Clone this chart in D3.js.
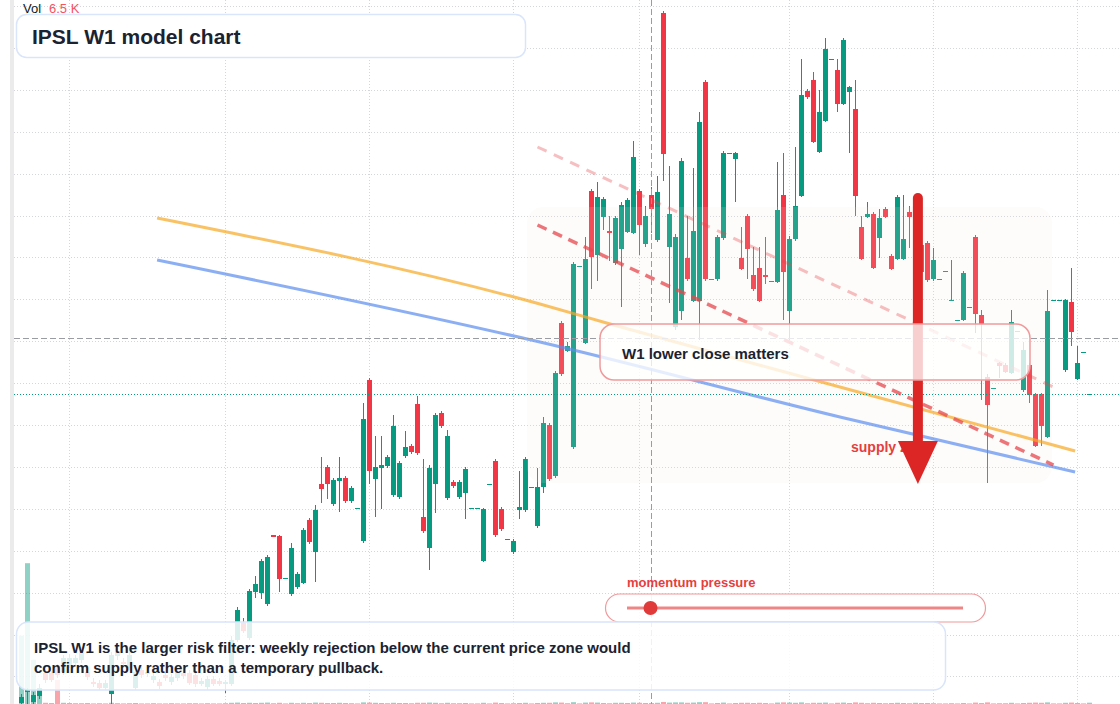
<!DOCTYPE html>
<html>
<head>
<meta charset="utf-8">
<title>IPSL W1 model chart</title>
<script src="https://cdn.jsdelivr.net/npm/d3@7"></script>
<style>
  html, body { margin: 0; padding: 0; background: #ffffff; }
  svg { display: block; font-family: "Liberation Sans", Arial, sans-serif; }
</style>
</head>
<body>
<svg id="chart" width="1120" height="704"></svg>
<script>
/*
 * IPSL weekly candles with the model overlays drawn on top.
 */

// weekly candles, oldest first
var opens = [20.1, 21.2, 20.2, 20.8, 23.1, 23.1, 23.7, 23.2, 23.9, 24.1,
  24.4, 23.2, 22.2, 22.1, 21.6, 21.0, 24.8, 24.2, 23.6, 21.6,
  23.4, 23.0, 22.4, 22.2, 22.9, 22.2, 22.6, 23.1, 23.1, 22.9,
  22.0, 21.7, 22.5, 22.3, 22.0, 22.0, 26.4, 28.1, 26.6, 31.2,
  31.1, 30.0, 36.9, 36.8, 32.5, 31.0, 31.7, 32.1, 38.4, 35.2,
  42.0, 43.7, 40.0, 42.3, 42.6, 40.3, 39.5, 36.3, 52.4, 42.5,
  43.6, 43.8, 40.9, 40.7, 44.8, 45.8, 50.0, 38.7, 35.6, 42.0,
  49.1, 40.6, 42.2, 40.7, 41.1, 39.5, 39.5, 34.3, 41.9, 44.3,
  39.5, 36.4, 35.2, 39.4, 39.4, 41.6, 37.8, 41.7, 47.9, 42.8,
  58.1, 55.3, 45.7, 63.7, 56.1, 71.3, 64.9, 68.7, 67.3, 64.1,
  65.5, 67.2, 67.1, 71.3, 66.0, 70.9, 66.4, 89.1, 65.7, 57.7,
  59.3, 64.6, 60.3, 60.3, 82.2, 62.5, 62.5, 66.6, 75.0, 74.5,
  64.6, 68.8, 62.9, 63.6, 62.9, 62.2, 62.2, 70.9, 59.3, 66.5,
  70.8, 81.3, 82.4, 75.2, 78.3, 84.4, 83.4, 80.0, 81.2, 79.5,
  67.7, 68.7, 69.0, 66.6, 69.5, 64.8, 64.5, 64.5, 69.2, 62.7,
  65.9, 66.1, 62.5, 62.4, 63.2, 60.3, 58.3, 58.4, 59.6, 66.7,
  58.9, 52.7, 51.5, 54.1, 53.9, 53.1, 57.2, 51.4, 53.9, 51.0,
  51.0, 46.7, 60.3, 60.3, 53.4, 60.2, 52.5, 55.1, 50.9];
var highs = [21.0, 21.6, 21.2, 22.0, 23.4, 23.3, 24.0, 24.9, 25.0, 24.9,
  25.4, 23.6, 22.6, 22.4, 22.4, 25.2, 25.6, 24.6, 25.2, 23.5,
  23.8, 23.5, 23.1, 22.5, 23.2, 23.0, 23.5, 23.4, 23.4, 23.2,
  22.6, 22.8, 22.8, 22.6, 22.4, 26.8, 29.7, 28.6, 31.5, 32.8,
  34.5, 34.9, 36.9, 36.9, 32.6, 36.1, 33.2, 37.6, 38.6, 39.9,
  44.7, 43.9, 42.6, 44.7, 42.8, 41.8, 39.6, 50.1, 52.6, 46.8,
  46.8, 44.9, 48.9, 44.3, 47.3, 46.0, 50.8, 44.5, 43.9, 49.1,
  49.3, 47.4, 42.4, 42.4, 43.7, 39.6, 39.6, 39.6, 42.0, 44.5,
  39.7, 36.5, 36.5, 43.3, 44.7, 41.7, 43.6, 48.7, 48.1, 53.3,
  58.3, 56.2, 64.2, 63.8, 66.7, 71.5, 72.2, 70.7, 68.8, 68.8,
  70.2, 70.6, 76.3, 71.5, 69.8, 71.7, 72.8, 89.3, 73.8, 67.0,
  74.6, 68.8, 73.6, 79.2, 82.4, 62.5, 66.9, 75.3, 75.1, 75.2,
  67.7, 69.0, 65.7, 65.7, 66.7, 62.3, 74.2, 75.1, 66.8, 75.7,
  84.5, 81.5, 83.2, 81.4, 86.6, 84.5, 84.5, 86.6, 81.8, 82.4,
  68.8, 70.2, 69.2, 69.5, 69.7, 65.0, 70.9, 70.9, 69.8, 66.9,
  66.1, 66.3, 65.6, 62.5, 63.3, 64.4, 58.4, 63.3, 59.7, 66.9,
  59.4, 53.0, 51.6, 54.2, 54.1, 59.4, 57.3, 56.2, 54.1, 51.1,
  51.1, 61.4, 60.4, 60.4, 60.5, 63.6, 55.8, 55.2, 51.0];
var lows = [19.7, 19.2, 19.8, 20.5, 22.1, 22.2, 22.6, 22.9, 23.6, 23.8,
  24.1, 22.4, 21.7, 21.4, 21.4, 19.8, 24.4, 23.6, 23.4, 21.4,
  22.6, 22.7, 22.1, 21.5, 22.3, 21.9, 22.3, 22.5, 21.9, 21.7,
  21.8, 21.4, 21.8, 21.8, 21.1, 21.8, 26.2, 27.1, 26.4, 30.6,
  30.5, 29.8, 36.7, 31.2, 32.5, 30.8, 31.5, 32.0, 36.0, 32.2,
  40.1, 40.5, 39.8, 39.2, 40.1, 40.1, 39.5, 36.1, 42.0, 38.7,
  39.5, 43.6, 40.7, 40.5, 44.6, 45.0, 44.9, 37.1, 33.4, 39.1,
  47.6, 40.4, 41.6, 40.5, 38.5, 39.5, 39.5, 34.2, 41.9, 36.7,
  37.3, 36.4, 35.0, 38.5, 39.2, 41.6, 37.6, 41.1, 42.3, 42.6,
  52.8, 55.2, 45.5, 63.7, 56.0, 61.5, 62.3, 67.4, 64.3, 63.9,
  59.7, 67.1, 67.0, 64.9, 65.7, 67.1, 66.2, 72.3, 60.1, 57.4,
  58.4, 62.3, 60.2, 56.4, 62.3, 62.4, 62.3, 66.4, 75.0, 70.2,
  63.4, 62.5, 61.3, 60.2, 62.0, 62.2, 62.1, 58.4, 56.4, 66.3,
  70.7, 80.5, 76.1, 75.1, 78.2, 84.4, 79.2, 79.9, 75.1, 68.8,
  64.4, 68.6, 63.5, 64.6, 68.6, 63.4, 64.4, 64.4, 65.6, 62.5,
  63.1, 62.2, 62.3, 62.4, 63.2, 60.3, 58.3, 58.3, 59.6, 57.1,
  50.4, 42.1, 51.5, 52.6, 53.1, 53.0, 57.2, 51.2, 50.1, 45.7,
  45.8, 46.6, 60.3, 60.3, 53.2, 55.8, 52.4, 55.1, 50.9];
var closes = [20.7, 21.4, 20.9, 21.6, 22.4, 22.4, 22.9, 24.6, 24.6, 24.6,
  25.1, 22.7, 22.0, 21.6, 22.1, 24.9, 25.2, 24.0, 24.9, 23.2,
  22.9, 23.2, 22.8, 21.8, 22.6, 22.7, 23.2, 22.8, 22.1, 22.0,
  22.3, 22.5, 22.0, 22.0, 22.2, 26.4, 29.4, 27.3, 31.3, 32.0,
  34.3, 34.7, 36.7, 32.5, 32.6, 35.6, 33.0, 37.4, 36.2, 39.4,
  41.5, 42.0, 42.4, 42.6, 40.3, 41.6, 39.6, 48.5, 43.3, 43.7,
  43.9, 44.7, 47.8, 44.1, 45.7, 45.2, 45.1, 37.3, 43.6, 48.9,
  47.8, 46.8, 41.8, 42.2, 43.5, 39.6, 39.6, 39.5, 42.0, 36.9,
  37.5, 36.5, 36.3, 39.7, 44.5, 41.7, 41.7, 48.1, 42.5, 53.1,
  53.0, 55.8, 64.0, 63.8, 64.5, 64.7, 70.7, 70.5, 67.1, 68.6,
  69.9, 70.4, 74.7, 67.9, 68.8, 69.5, 71.2, 75.0, 69.0, 66.7,
  74.3, 62.5, 67.3, 78.2, 62.5, 62.4, 66.7, 75.1, 75.1, 75.1,
  63.5, 65.5, 61.5, 60.3, 62.7, 62.3, 69.4, 63.2, 66.5, 69.8,
  80.9, 80.7, 76.2, 79.2, 85.5, 84.5, 80.0, 86.4, 81.7, 70.8,
  64.5, 69.0, 63.6, 68.6, 68.7, 63.5, 70.7, 66.5, 68.7, 66.7,
  63.2, 62.4, 64.4, 62.5, 63.3, 60.4, 58.4, 63.1, 59.7, 59.0,
  58.0, 49.9, 51.6, 53.8, 53.2, 58.2, 57.3, 55.4, 50.9, 45.8,
  47.8, 59.3, 60.4, 60.4, 60.4, 57.2, 54.1, 55.2, 51.0];
// weekly volume, thousands of shares
var volumes = [340, 700, 220, 40, 6, 5, 120, 6, 5, 4,
  4, 5, 3, 4, 3, 6, 4, 3, 4, 5,
  3, 3, 4, 3, 3, 4, 3, 3, 4, 4,
  3, 4, 3, 3, 4, 6, 7, 5, 6, 5,
  6, 7, 4, 6, 3, 6, 4, 6, 5, 7,
  6, 5, 5, 6, 5, 4, 3, 8, 7, 6,
  5, 4, 6, 5, 5, 4, 6, 6, 7, 6,
  4, 6, 4, 4, 5, 3, 3, 6, 3, 7,
  5, 3, 4, 5, 6, 3, 5, 6, 6, 8,
  7, 4, 9, 3, 7, 8, 7, 5, 4, 6,
  6, 5, 7, 6, 5, 5, 6, 10, 7, 8,
  8, 6, 7, 9, 9, 3, 5, 7, 3, 5,
  6, 6, 5, 6, 5, 3, 7, 8, 7, 6,
  8, 4, 6, 6, 7, 3, 6, 7, 5, 8,
  6, 4, 6, 5, 4, 5, 6, 5, 4, 6,
  5, 5, 4, 3, 3, 4, 3, 5, 3, 7,
  5, 8, 3, 4, 4, 6, 3, 5, 6, 7,
  6, 8, 3, 3, 6, 7, 5, 3, 6.5];

// price levels of the grid and the weeks that carry a time line
var gridPrices = [89.75, 85.56, 81.37, 77.18, 72.99, 68.8, 64.61, 60.42, 56.23,
  52.04, 47.85, 43.66, 39.47, 35.28, 31.09, 26.9, 22.71];
var gridWeeks = [8, 34, 58, 82, 103, 128, 152, 176];

// crosshair
var crossWeek = 105;
var crossPrice = 56.55;

// drawings, as [week, price]
var orangeTrend = [[22.6, 68.6], [86.4, 60.0], [98.1, 58.0], [136.4, 51.7], [175.6, 45.3]];
var blueTrend = [[22.6, 64.4], [86.4, 56.2], [136.4, 48.7], [175.6, 43.2]];
var upperDash = [[86, 75.7], [172, 51.7]];
var lowerDash = [[86, 67.9], [172, 43.9]];
var zoneWeeks = [84.25, 171.75];
var zonePrices = [69.7, 42.1];
var arrowWeek = 149.4;
var arrowPrices = [71.1, 42.0];
var momentum = 0.07;

var noteLines = [
  'IPSL W1 is the larger risk filter: weekly rejection below the current price zone would',
  'confirm supply rather than a temporary pullback.'
];

var width = 1120, height = 704;
var upColour = '#089981', downColour = '#f23645';
var ink = '#1b2230';

var svg = d3.select('#chart');

var x = d3.scaleLinear().domain([0, opens.length - 1]).range([21.5, 1089.5]);
var y = d3.scaleLinear().domain([20, 90.4]).range([height, 0]);
var vy = d3.scaleLinear().domain([0, d3.max(volumes)]).range([height, height * 0.8]);

var candles = opens.map(function(o, i) {
  return {i: i, o: o, h: highs[i], l: lows[i], c: closes[i], v: volumes[i]};
});

function colour(d) {
  return d.c >= d.o ? upColour : downColour;
}

svg.append('rect').attr('width', width).attr('height', height).attr('fill', '#ffffff');
// left price scale edge
svg.append('rect').attr('x', 10).attr('width', 4).attr('height', height).attr('fill', '#ebebeb');

svg.append('clipPath').attr('id', 'plot-clip')
  .append('rect').attr('x', 14).attr('width', width - 14).attr('height', height);

var plot = svg.append('g').attr('clip-path', 'url(#plot-clip)');

/* Grid */
plot.selectAll('.hgrid')
  .data(gridPrices)
  .enter()
  .append('line')
    .attr('x1', 14).attr('x2', width)
    .attr('y1', function(d) { return Math.floor(y(d)) + 0.5; })
    .attr('y2', function(d) { return Math.floor(y(d)) + 0.5; })
    .attr('stroke', '#d3d6db')
    .attr('stroke-dasharray', '1,2');

plot.selectAll('.vgrid')
  .data(gridWeeks)
  .enter()
  .append('line')
    .attr('x1', function(d) { return x(d); })
    .attr('x2', function(d) { return x(d); })
    .attr('y1', 0).attr('y2', height)
    .attr('stroke', '#d3d6db')
    .attr('stroke-dasharray', '1,2');

/* Volume */
plot.selectAll('.vol')
  .data(candles)
  .enter()
  .append('rect')
    .attr('x', function(d) { return x(d.i) - 2.5; })
    .attr('width', 5)
    .attr('y', function(d) { return vy(d.v); })
    .attr('height', function(d) { return height - vy(d.v); })
    .attr('fill', colour)
    .attr('fill-opacity', 0.45);

/* Candles */
plot.selectAll('.wick')
  .data(candles)
  .enter()
  .append('line')
    .attr('x1', function(d) { return x(d.i); })
    .attr('x2', function(d) { return x(d.i); })
    .attr('y1', function(d) { return y(d.h); })
    .attr('y2', function(d) { return y(d.l); })
    .attr('stroke', colour);

plot.selectAll('.body')
  .data(candles)
  .enter()
  .append('rect')
    .attr('x', function(d) { return x(d.i) - 2.5; })
    .attr('width', 5)
    .attr('y', function(d) { return y(Math.max(d.o, d.c)); })
    .attr('height', function(d) { return Math.max(1, Math.abs(y(d.o) - y(d.c))); })
    .attr('fill', colour);

/* Supply zone wash */
plot.append('rect')
  .attr('x', x(zoneWeeks[0]))
  .attr('y', y(zonePrices[0]))
  .attr('width', x(zoneWeeks[1]) - x(zoneWeeks[0]))
  .attr('height', y(zonePrices[1]) - y(zonePrices[0]))
  .attr('rx', 16)
  .attr('fill', 'rgba(245, 228, 218, 0.13)');

/* Trend lines */
var trend = d3.line()
  .x(function(d) { return x(d[0]); })
  .y(function(d) { return y(d[1]); })
  .curve(d3.curveMonotoneX);

plot.append('path').attr('d', trend(orangeTrend))
  .attr('fill', 'none').attr('stroke', '#f7a823').attr('stroke-opacity', 0.7)
  .attr('stroke-width', 3);
plot.append('path').attr('d', trend(blueTrend))
  .attr('fill', 'none').attr('stroke', '#5b8def').attr('stroke-opacity', 0.7)
  .attr('stroke-width', 3);
plot.append('path').attr('d', trend(upperDash))
  .attr('fill', 'none').attr('stroke', '#e5484d').attr('stroke-opacity', 0.35)
  .attr('stroke-width', 3).attr('stroke-dasharray', '10,8');
plot.append('path').attr('d', trend(lowerDash))
  .attr('fill', 'none').attr('stroke', '#e5484d').attr('stroke-opacity', 0.75)
  .attr('stroke-width', 3.5).attr('stroke-dasharray', '10,7');

/* Last price and crosshair */
var last = candles[candles.length - 1];
plot.append('line')
  .attr('x1', 14).attr('x2', width)
  .attr('y1', Math.floor(y(last.c)) + 0.5).attr('y2', Math.floor(y(last.c)) + 0.5)
  .attr('stroke', colour(last))
  .attr('stroke-dasharray', '1,2');

plot.append('line')
  .attr('x1', 14).attr('x2', width)
  .attr('y1', Math.floor(y(crossPrice)) + 0.5).attr('y2', Math.floor(y(crossPrice)) + 0.5)
  .attr('stroke', '#9a9ca3')
  .attr('stroke-dasharray', '6,3');
plot.append('line')
  .attr('x1', x(crossWeek)).attr('x2', x(crossWeek))
  .attr('y1', 0).attr('y2', height)
  .attr('stroke', '#9a9ca3')
  .attr('stroke-dasharray', '6,3');

/* Supply arrow and label */
var ax = x(arrowWeek), aTop = y(arrowPrices[0]), aTip = y(arrowPrices[1]);
var headLen = 43, headHalf = 20;

svg.append('text')
  .attr('x', 851).attr('y', 452)
  .attr('font-size', 14).attr('font-weight', 'bold')
  .attr('fill', '#e53e3e')
  .text('supply zone');

svg.append('line')
  .attr('x1', ax).attr('x2', ax)
  .attr('y1', aTop + 5).attr('y2', aTip - headLen + 2)
  .attr('stroke', '#dc2626').attr('stroke-width', 10)
  .attr('stroke-linecap', 'round');
svg.append('path')
  .attr('d', 'M' + (ax - headHalf) + ',' + (aTip - headLen) +
    'L' + (ax + headHalf) + ',' + (aTip - headLen) +
    'L' + ax + ',' + aTip + 'Z')
  .attr('fill', '#dc2626');

/* W1 note */
svg.append('rect')
  .attr('x', 600).attr('y', 324).attr('width', 430).attr('height', 56)
  .attr('rx', 14)
  .attr('fill', 'rgba(255, 255, 255, 0.78)')
  .attr('stroke', '#f09a9c').attr('stroke-width', 1.5);
svg.append('text')
  .attr('x', 622).attr('y', 359)
  .attr('font-size', 15).attr('font-weight', 'bold').attr('fill', ink)
  .text('W1 lower close matters');

/* Momentum gauge */
var gauge = d3.scaleLinear().domain([0, 1]).range([627, 963]);
svg.append('text')
  .attr('x', 627).attr('y', 587)
  .attr('font-size', 13).attr('font-weight', 'bold').attr('fill', '#e53e3e')
  .text('momentum pressure');
svg.append('rect')
  .attr('x', 605.5).attr('y', 594).attr('width', 380).attr('height', 28)
  .attr('rx', 14)
  .attr('fill', 'rgba(255, 255, 255, 0.9)')
  .attr('stroke', '#f09a9c').attr('stroke-width', 1.2);
svg.append('line')
  .attr('x1', gauge(0)).attr('x2', gauge(1))
  .attr('y1', 608).attr('y2', 608)
  .attr('stroke', '#ef8585').attr('stroke-width', 3);
svg.append('circle')
  .attr('cx', gauge(momentum)).attr('cy', 608).attr('r', 7)
  .attr('fill', '#e03a3a');

/* Bottom note */
svg.append('rect')
  .attr('x', 16.5).attr('y', 622).attr('width', 929).attr('height', 68)
  .attr('rx', 12)
  .attr('fill', 'rgba(255, 255, 255, 0.86)')
  .attr('stroke', '#d9e5fb').attr('stroke-width', 1.5);
svg.selectAll('.note')
  .data(noteLines)
  .enter()
  .append('text')
    .attr('x', 34)
    .attr('y', function(d, i) { return 652.5 + i * 20; })
    .attr('font-size', 15).attr('font-weight', 'bold').attr('fill', ink)
    .text(function(d) { return d; });

/* Title */
svg.append('rect')
  .attr('x', 16.5).attr('y', 14.5).attr('width', 509).attr('height', 43)
  .attr('rx', 10)
  .attr('fill', '#ffffff')
  .attr('stroke', '#d9e5fb').attr('stroke-width', 1.5);
svg.append('text')
  .attr('x', 32).attr('y', 44)
  .attr('font-size', 21).attr('font-weight', 'bold').attr('fill', ink)
  .text('IPSL W1 model chart');

/* Volume legend */
var legend = svg.append('text').attr('x', 23).attr('y', 13).attr('font-size', 13);
legend.append('tspan').attr('fill', '#131722').text('Vol');
legend.append('tspan').attr('x', 49).attr('fill', '#f7525f')
  .text(d3.format('.1f')(last.v) + ' K');
</script>
</body>
</html>
